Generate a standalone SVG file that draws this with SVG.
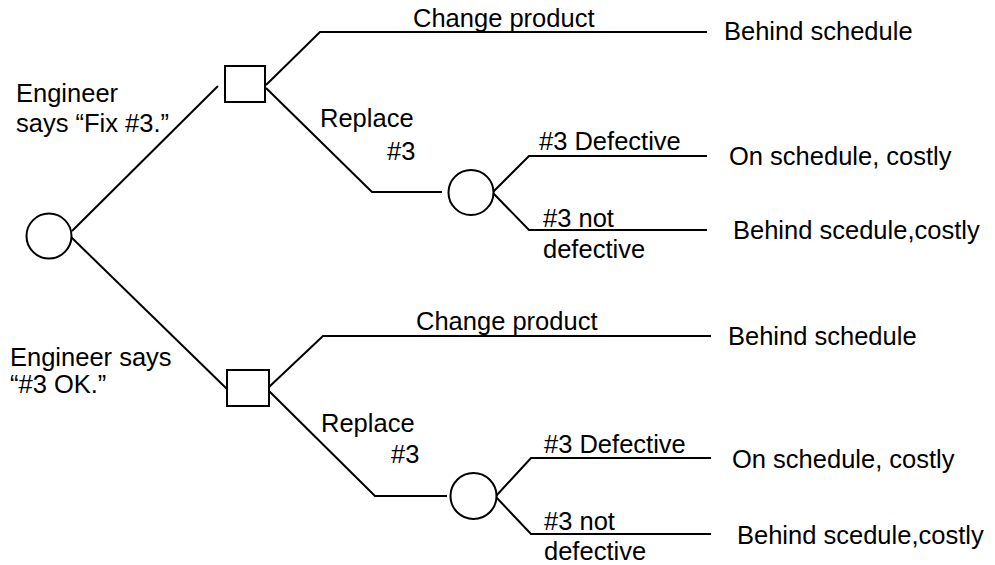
<svg xmlns="http://www.w3.org/2000/svg" width="995" height="565" viewBox="0 0 995 565">
  <style>
    .edge { fill: none; stroke: #000; stroke-width: 2; }
    .chance { fill: #fff; stroke: #000; stroke-width: 2; }
    .decision { fill: #fff; stroke: #000; stroke-width: 2; }
    text { font-family: "Liberation Sans", Arial, sans-serif; font-size: 25.5px; fill: #000; }
  </style>
  <rect width="995" height="565" fill="#fff"/>

  <!-- connectors -->
  <g id="connectors">
    <!-- root to decisions -->
    <polyline class="edge" points="72,231 218,86"/>
    <polyline class="edge" points="71,237 227,389"/>
    <!-- upper decision -->
    <polyline class="edge" points="266,85 320,32 707,32"/>
    <polyline class="edge" points="266,88 372,192 442,192"/>
    <!-- upper chance -->
    <polyline class="edge" points="493,192 529,156 707,156"/>
    <polyline class="edge" points="493,193 529,230 707,230"/>
    <!-- lower decision -->
    <polyline class="edge" points="269,387 323,336 711,336"/>
    <polyline class="edge" points="269,391 375,496 447,496"/>
    <!-- lower chance -->
    <polyline class="edge" points="496,496 531,458 711,458"/>
    <polyline class="edge" points="496,497 531,534 711,534"/>
  </g>

  <!-- nodes -->
  <g id="root">
    <circle class="chance" cx="49" cy="236" r="22.5"/>
  </g>
  <g id="decision-fix">
    <rect class="decision" x="225" y="66" width="40" height="36"/>
  </g>
  <g id="chance-fix">
    <circle class="chance" cx="471" cy="192.5" r="22.5"/>
  </g>
  <g id="decision-ok">
    <rect class="decision" x="227" y="370" width="42" height="36"/>
  </g>
  <g id="chance-ok">
    <circle class="chance" cx="473.5" cy="496" r="23"/>
  </g>

  <!-- branch labels -->
  <g id="labels-fix">
    <text x="16" y="102">Engineer</text>
    <text x="16" y="132">says “Fix #3.”</text>
    <text x="413" y="27">Change product</text>
    <text x="320" y="127">Replace</text>
    <text x="387" y="160">#3</text>
    <text x="539" y="150">#3 Defective</text>
    <text x="543" y="227">#3 not</text>
    <text x="543" y="258">defective</text>
  </g>
  <g id="outcomes-fix">
    <text x="724" y="40">Behind schedule</text>
    <text x="729" y="165">On schedule, costly</text>
    <text x="733" y="239">Behind scedule,costly</text>
  </g>
  <g id="labels-ok">
    <text x="10" y="366">Engineer says</text>
    <text x="10" y="393">“#3 OK.”</text>
    <text x="416" y="330">Change product</text>
    <text x="321" y="432">Replace</text>
    <text x="391" y="463">#3</text>
    <text x="544" y="453">#3 Defective</text>
    <text x="544" y="530">#3 not</text>
    <text x="544" y="560">defective</text>
  </g>
  <g id="outcomes-ok">
    <text x="728" y="345">Behind schedule</text>
    <text x="732" y="468">On schedule, costly</text>
    <text x="737" y="544">Behind scedule,costly</text>
  </g>
</svg>
